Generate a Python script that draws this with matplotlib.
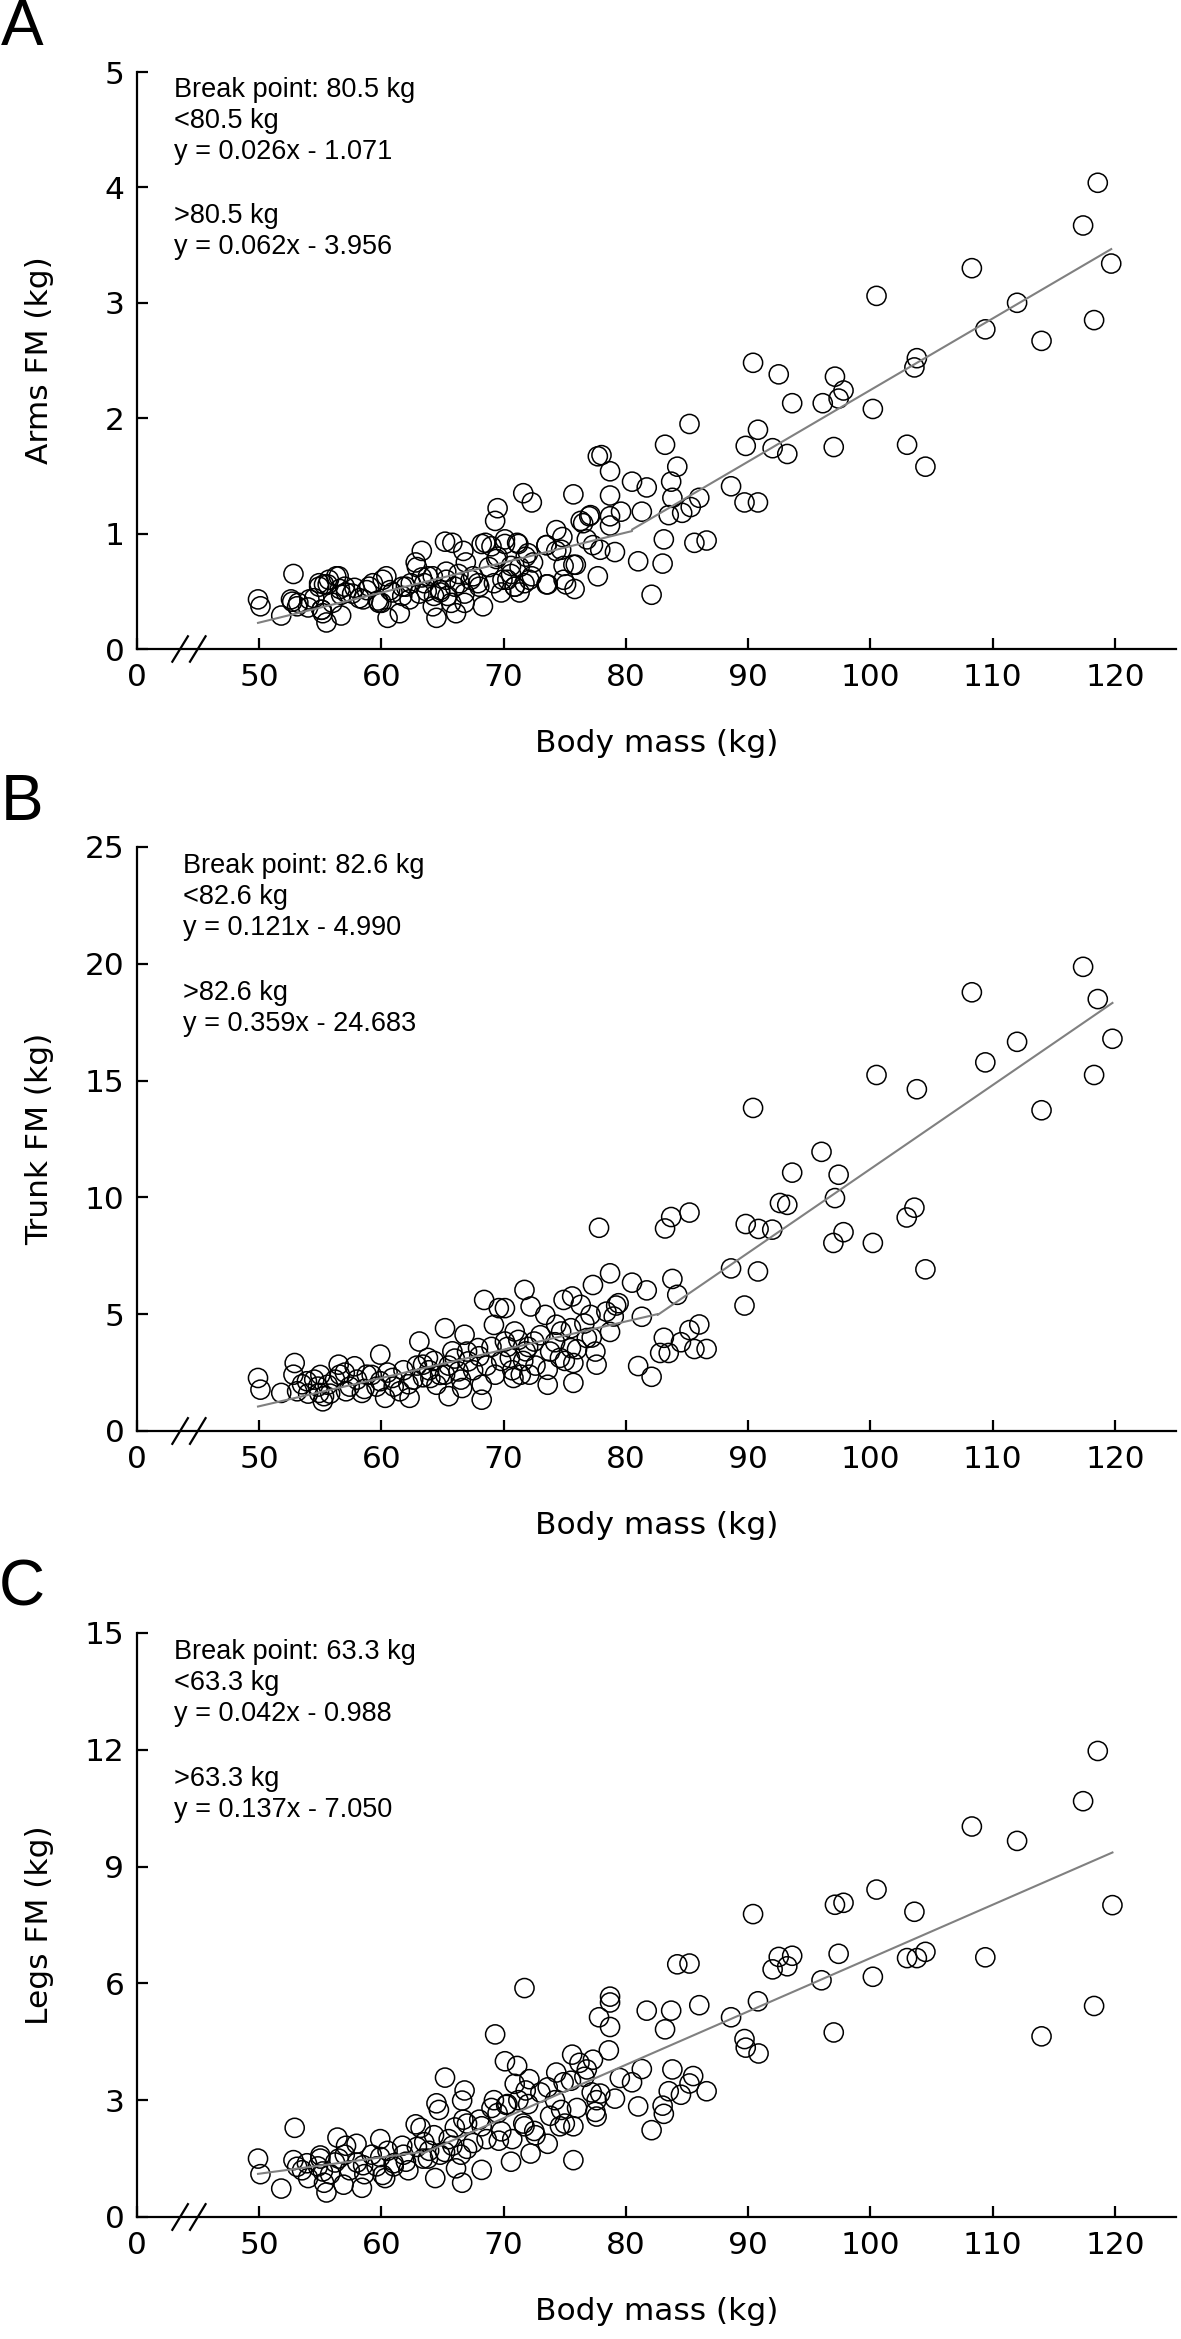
import matplotlib
matplotlib.use("Agg")
import matplotlib.pyplot as plt

# ---------------- data ----------------
# Panel A: arms fat mass
arms_mass = [49.9,50.1,51.8,52.8,52.7,53.1,54.1,54.9,55.3,55.1,55.5,55.2,56.3,56.7,56.6,57.1,57.8,58.5,59.0,59.7,
             60.0,60.4,60.5,60.9,61.5,61.7,62.3,62.8,63.3,63.3,63.7,64.2,64.2,64.5,64.8,65.2,65.3,65.4,65.8,66.1,
             66.4,66.7,66.8,66.9,67.5,68.0,68.3,68.5,69.0,69.3,69.5,69.4,69.8,70.1,70.3,70.6,70.9,71.1,71.3,71.6,
             72.3,72.0,72.1,72.4,73.5,73.6,74.3,74.7,74.9,75.1,75.7,75.8,75.9,76.5,77.0,77.3,77.7,77.7,77.9]
arms_fm = [0.43,0.37,0.29,0.65,0.41,0.37,0.43,0.54,0.56,0.34,0.23,0.31,0.63,0.29,0.52,0.49,0.53,0.43,0.54,0.42,
           0.40,0.63,0.27,0.49,0.31,0.54,0.43,0.75,0.85,0.62,0.50,0.63,0.37,0.27,0.49,0.93,0.67,0.46,0.92,0.31,
           0.57,0.85,0.40,0.75,0.63,0.54,0.37,0.92,0.89,1.11,1.22,0.78,0.49,0.95,0.60,0.72,0.54,0.92,0.49,1.35,
           1.27,0.83,0.60,0.75,0.90,0.56,1.03,0.86,0.72,0.56,1.34,0.52,0.73,1.09,1.15,0.90,1.67,0.63,0.86]
arms_mass_dense = [52.6,53.2,54.0,54.5,54.9,55.1,55.6,55.7,56.0,56.5,56.7,57.0,57.6,58.2,58.8,59.3,59.8,60.1,60.7,61.7,
                   62.0,62.4,62.9,63.1,63.5,63.8,64.3,64.8,65.3,65.7,66.0,66.3,66.8,67.3,67.9,68.2,68.8,69.2,69.5,69.9,
                   70.1,70.6,70.9,71.2,71.3,71.7,71.8,72.3,73.5,73.5,74.3,74.8,74.9,75.7,76.3,76.8,77.1]
arms_fm_dense = [0.43,0.40,0.36,0.44,0.57,0.34,0.56,0.60,0.40,0.63,0.47,0.54,0.48,0.44,0.51,0.57,0.40,0.60,0.51,0.46,
                 0.54,0.57,0.71,0.48,0.57,0.63,0.46,0.51,0.60,0.40,0.54,0.65,0.48,0.60,0.57,0.91,0.71,0.57,0.80,0.60,
                 0.91,0.65,0.54,0.91,0.71,0.57,0.80,0.63,0.90,0.56,0.85,0.97,0.60,0.73,1.11,0.95,1.16]
arms_mass_high = [118.6,117.4,119.7,118.3,108.3,112.0,109.4,114.0,100.5,103.8,103.6,104.5,103.0,100.2,97.1,97.8,97.4,96.1,
                  93.6,92.5,90.4,90.8,89.8,92.0,93.2,97.0,88.6,89.7,90.8,85.2,83.2,84.2,83.7,83.8,83.5,84.6,85.3,86.0,
                  83.1,85.6,86.6,83.0,81.0,82.1,80.5,81.7,81.3,79.6,78.7,78.7,78.7,78.7,79.1,78.0]
arms_fm_high = [4.04,3.67,3.34,2.85,3.30,3.00,2.77,2.67,3.06,2.52,2.44,1.58,1.77,2.08,2.36,2.24,2.17,2.13,
                2.13,2.38,2.48,1.90,1.76,1.74,1.69,1.75,1.41,1.27,1.27,1.95,1.77,1.58,1.45,1.31,1.16,1.18,1.23,1.31,
                0.95,0.92,0.94,0.74,0.76,0.47,1.45,1.40,1.19,1.19,1.54,1.33,1.15,1.07,0.84,1.68]

# Panel B: trunk fat mass
trunk_mass = [49.9,50.1,51.8,52.9,52.8,53.1,53.9,54.5,54.9,55.2,55.3,55.6,56.5,56.6,57.1,57.8,58.4,58.8,59.9,59.9,
              60.3,60.9,61.5,62.3,62.6,63.1,63.4,63.8,64.0,64.5,65.2,65.2,65.5,65.8,66.3,66.6,66.8,67.1,67.9,68.2,
              68.2,68.4,69.2,69.3,69.6,70.1,70.1,70.5,70.8,70.9,71.4,71.7,71.8,72.1,72.2,72.5,73.4,73.6,73.6,74.3,
              74.6,74.7,74.9,75.5,75.6,75.7,75.7,76.3,76.8,77.1,77.3,77.6,77.8]
trunk_fm = [2.27,1.77,1.63,2.91,2.41,1.70,2.13,2.20,1.63,1.27,1.49,1.98,2.84,2.41,1.70,2.77,1.63,2.41,3.27,2.13,
            1.42,2.27,1.70,1.42,2.20,3.83,2.84,3.13,2.27,1.98,4.40,2.41,1.49,3.41,2.55,1.84,4.12,2.98,3.55,1.98,
            1.34,5.61,4.54,2.41,5.26,5.26,3.83,3.13,2.27,4.26,2.41,6.04,3.41,2.41,5.33,3.83,4.97,2.62,1.98,4.55,
            3.13,4.26,5.61,3.55,5.76,2.91,2.06,5.40,3.98,4.97,6.25,2.84,8.70]
trunk_mass_high = [117.4,118.6,119.8,118.3,108.3,112.0,109.4,114.0,100.5,103.8,90.4,96.0,93.6,97.4,97.1,92.6,93.2,103.6,
                   102.97,97.8,96.97,100.2,104.5,89.8,90.85,91.97,88.6,90.8,89.7,85.2,83.7,83.2,78.7,80.5,81.7,83.8,
                   84.2,81.3,79.2,78.7,83.1,82.8,83.5,84.5,85.2,86.0,85.6,86.6,81.0,82.1,78.4,79.0,79.4]
trunk_fm_high = [19.87,18.49,16.79,15.24,18.78,16.66,15.78,13.73,15.24,14.63,13.83,11.95,11.06,10.97,9.97,9.76,9.68,9.56,
                 9.14,8.51,8.05,8.05,6.92,8.86,8.65,8.62,6.96,6.83,5.37,9.35,9.16,8.67,6.75,6.35,6.02,6.51,
                 5.83,4.89,5.37,4.24,3.99,3.34,3.34,3.80,4.32,4.56,3.51,3.51,2.78,2.32,5.11,4.90,5.47]

# Panel C: legs fat mass
legs_mass = [49.9,50.1,51.8,52.9,52.8,53.1,53.9,55.0,55.2,55.3,55.5,56.4,56.5,56.9,57.1,57.96,58.4,58.5,59.9,59.9,
             60.1,60.3,61.0,61.7,62.0,62.8,63.2,63.5,63.8,64.4,64.5,64.7,65.2,65.2,65.8,66.1,66.6,66.6,66.8,66.7,
             67.0,68.2,68.2,69.2,69.3,69.5,69.6,70.1,70.2,70.6,70.9,71.1,71.7,71.7,71.8,72.1,72.2,72.5,73.6,73.6,
             74.3,74.6,74.7,74.9,75.6,75.7,75.7,76.2,76.8,77.3,77.6,77.6,77.8,77.9]
legs_fm = [1.50,1.10,0.73,2.29,1.46,1.29,1.38,1.58,1.17,0.88,0.63,2.04,1.50,0.83,1.83,1.88,0.75,1.33,2.00,1.54,
           1.08,1.00,1.38,1.83,1.42,2.38,2.29,1.92,1.50,1.00,2.92,2.75,3.58,1.67,1.83,1.25,2.99,0.88,3.25,2.50,
           1.75,1.21,2.33,3.00,4.69,2.67,1.96,4.00,2.88,1.42,3.42,3.88,5.88,2.33,3.25,3.54,1.63,2.21,3.33,1.88,
           3.71,2.33,2.75,3.46,4.17,2.33,1.46,3.96,3.79,4.04,2.58,3.00,5.13,3.17]
legs_mass_high = [118.6,117.4,119.8,118.3,108.3,112.0,109.4,114.0,100.5,103.6,103.8,103.0,104.5,100.2,97.1,97.8,97.4,97.0,
                  96.0,93.6,92.5,93.2,92.0,90.4,90.8,89.7,89.8,90.85,88.6,86.0,84.2,85.2,83.7,83.2,81.7,81.3,83.8,
                  80.5,79.5,83.5,85.2,85.5,84.5,86.6,83.0,83.1,81.0,82.1,78.7,78.7,78.7,78.6,79.1]
legs_fm_high = [11.97,10.68,8.01,5.42,10.03,9.66,6.67,4.64,8.41,7.84,6.65,6.65,6.81,6.17,8.02,8.07,6.76,4.74,
                6.08,6.71,6.68,6.44,6.36,7.78,5.54,4.57,4.35,4.20,5.13,5.44,6.49,6.51,5.30,4.82,5.30,3.80,3.79,
                3.46,3.57,3.23,3.43,3.62,3.14,3.23,2.86,2.65,2.84,2.23,5.66,5.51,4.88,4.28,3.04]

# dense-cluster subjects shared by panels B and C
dense_mass = [53.5,54.0,54.8,55.0,55.8,56.2,57.0,57.4,58.0,58.6,59.2,59.6,60.5,61.0,61.8,62.2,62.9,63.4,63.9,64.3,
              64.8,65.5,66.0,66.5,67.0,67.5,68.0,68.6,69.0,69.8,70.3,70.7,71.2,71.6,72.0,72.6,73.0,73.8,74.2,75.0,
              75.5,76.0,76.6,77.2,77.5]
trunk_fm_dense = [2.0,1.6,1.9,2.4,1.6,2.2,2.5,1.9,2.2,1.8,2.4,1.9,2.5,1.9,2.6,2.0,2.8,2.3,2.6,3.0,
                  2.4,2.8,3.1,2.2,3.4,2.6,3.2,2.8,3.6,3.0,3.6,2.6,3.9,3.0,3.6,2.8,4.1,3.4,3.8,3.0,
                  4.4,3.5,4.6,4.0,3.4]
legs_fm_dense = [1.2,1.0,1.3,1.5,1.1,1.4,1.6,1.2,1.4,1.1,1.6,1.3,1.7,1.3,1.6,1.2,1.8,1.5,1.7,2.1,
                 1.6,2.0,2.3,1.6,2.4,1.9,2.5,2.0,2.8,2.2,2.9,2.0,3.0,2.4,2.9,2.1,3.2,2.6,3.0,2.4,
                 3.5,2.8,3.6,3.2,2.7]

# piecewise regression: break point, (slope, intercept) below, (slope, intercept) above
arms_fit = [80.5, 0.026, -1.071, 0.062, -3.956]
trunk_fit = [82.6, 0.121, -4.990, 0.359, -24.683]
legs_fit = [63.3, 0.042, -0.988, 0.137, -7.050]

x_ticks = [40, 50, 60, 70, 80, 90, 100, 110, 120]
x_tick_labels = ["0", "50", "60", "70", "80", "90", "100", "110", "120"]
arms_yticks = [0, 1, 2, 3, 4, 5]
trunk_yticks = [0, 5, 10, 15, 20, 25]
legs_yticks = [0, 3, 6, 9, 12, 15]

# ---------------- figure ----------------
W, H = 1181, 2339
fig = plt.figure(figsize=(W / 100, H / 100), dpi=100)
LEFT, RIGHT = 137, 1176
TICK_FS = 22.5
ANN_FS = 19.5
ANN_FONT = ["Liberation Sans", "DejaVu Sans"]


def fmt_eq(m, b):
    sign = "-" if b < 0 else "+"
    return f"y = {m:.3f}x {sign} {abs(b):.3f}"


panels = [
    ("A", "Arms FM (kg)", arms_mass + arms_mass_dense + arms_mass_high,
     arms_fm + arms_fm_dense + arms_fm_high, arms_fit, arms_yticks, 72, 649, 0.0356),
    ("B", "Trunk FM (kg)", trunk_mass + dense_mass + trunk_mass_high,
     trunk_fm + trunk_fm_dense + trunk_fm_high, trunk_fit, trunk_yticks, 847, 1431, 0.0445),
    ("C", "Legs FM (kg)", legs_mass + dense_mass + legs_mass_high,
     legs_fm + legs_fm_dense + legs_fm_high, legs_fit, legs_yticks, 1633, 2217, 0.0356),
]

for letter, ylabel, xs, ys, fit, yticks, top, bot, txt_x in panels:
    ax = fig.add_axes([LEFT / W, 1 - bot / H, (RIGHT - LEFT) / W, (bot - top) / H])
    ax.set_xlim(x_ticks[0], 125)
    ax.set_ylim(yticks[0], yticks[-1])
    for side in ("top", "right"):
        ax.spines[side].set_visible(False)
    for side in ("left", "bottom"):
        ax.spines[side].set_linewidth(1.6)
    ax.set_xticks(x_ticks)
    ax.set_xticklabels(x_tick_labels)
    ax.set_yticks(yticks)
    ax.set_yticklabels([str(t) for t in yticks])
    ax.tick_params(direction="in", length=8, width=1.6, labelsize=TICK_FS)
    ax.tick_params(axis="x", pad=10)
    ax.tick_params(axis="y", pad=9)

    n = min(len(xs), len(ys))
    ax.scatter(xs[:n], ys[:n], s=190, facecolors="none", edgecolors="black",
               linewidths=1.1, zorder=2, clip_on=False)

    bp, m1, b1, m2, b2 = fit
    xmin, xmax = min(xs[:n]), max(xs[:n])
    lx = [xmin, bp, bp, xmax]
    ly = [m1 * xmin + b1, m1 * bp + b1, m2 * bp + b2, m2 * xmax + b2]
    ax.plot(lx, ly, color="#808080", lw=1.5, zorder=3)

    # axis break marks
    for x0, x1 in [(0.034, 0.049), (0.051, 0.066)]:
        ax.plot([x0, x1], [-0.022, 0.022], transform=ax.transAxes, color="black",
                lw=1.6, clip_on=False, zorder=5)

    lines = [f"Break point: {bp:.1f} kg", f"<{bp:.1f} kg", fmt_eq(m1, b1),
             f">{bp:.1f} kg", fmt_eq(m2, b2)]
    for t, yy in zip(lines, [0.968, 0.915, 0.862, 0.750, 0.697]):
        ax.text(txt_x, yy, t, transform=ax.transAxes, fontsize=ANN_FS,
                family=ANN_FONT, ha="left", va="center")

    fig.text(40 / W, 1 - (top + bot) / 2 / H, ylabel, rotation=90, ha="center",
             va="center", fontsize=TICK_FS)
    fig.text((LEFT + RIGHT) / 2 / W, 1 - (bot + 94) / H, "Body mass (kg)", ha="center",
             va="center", fontsize=TICK_FS)
    fig.text(22 / W, 1 - (top - 44) / H, letter, ha="center", va="center",
             fontsize=46, family=ANN_FONT)

fig.savefig("out.png", dpi=100)
